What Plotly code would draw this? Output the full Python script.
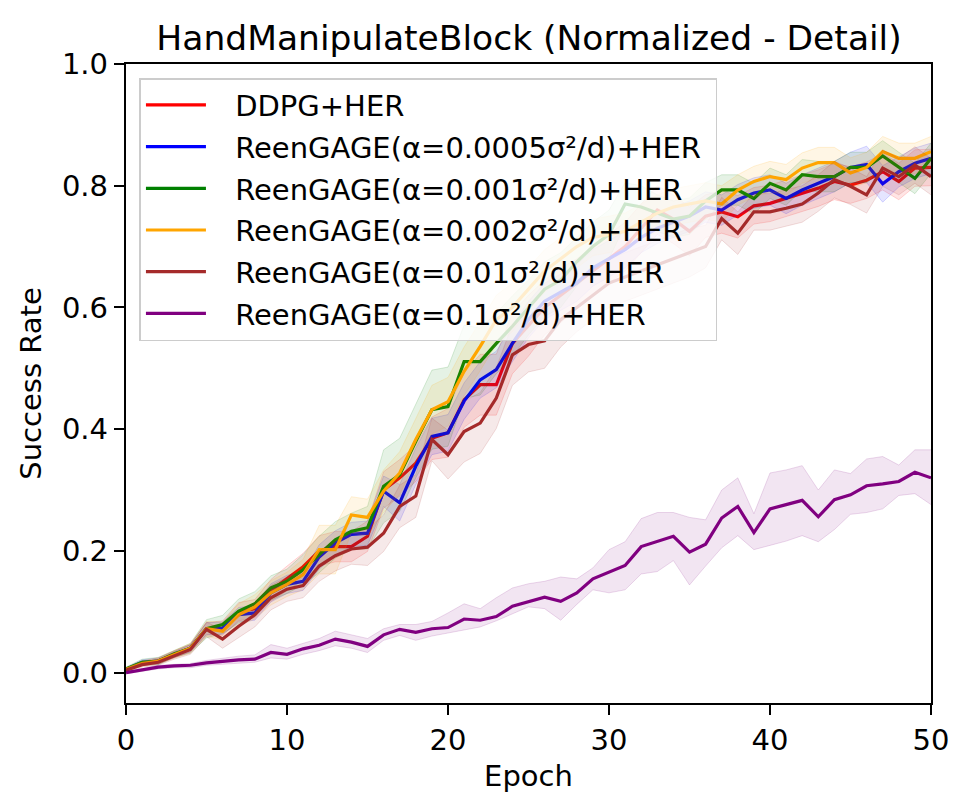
import plotly.graph_objects as go

# epochs 0..50
epochs = list(range(51))

# mean success rate per method
ddpg_her = [0.005, 0.015, 0.019, 0.030, 0.040, 0.072, 0.073, 0.100, 0.105, 0.135,
            0.155, 0.174, 0.200, 0.207, 0.207, 0.224, 0.300, 0.320, 0.344, 0.385,
            0.394, 0.448, 0.473, 0.473, 0.541, 0.570, 0.600, 0.620, 0.640, 0.660,
            0.680, 0.700, 0.730, 0.760, 0.745, 0.725, 0.750, 0.757, 0.749, 0.767,
            0.771, 0.779, 0.788, 0.796, 0.807, 0.801, 0.809, 0.823, 0.807, 0.829,
            0.830]
reen_00005 = [0.005, 0.017, 0.019, 0.030, 0.040, 0.072, 0.073, 0.095, 0.098, 0.131,
              0.145, 0.150, 0.190, 0.213, 0.227, 0.229, 0.298, 0.279, 0.339, 0.388,
              0.394, 0.446, 0.481, 0.498, 0.541, 0.580, 0.610, 0.625, 0.640, 0.665,
              0.680, 0.695, 0.715, 0.730, 0.740, 0.750, 0.765, 0.760, 0.777, 0.788,
              0.793, 0.779, 0.793, 0.804, 0.815, 0.830, 0.835, 0.803, 0.823, 0.837,
              0.845]
reen_0001 = [0.006, 0.017, 0.019, 0.031, 0.040, 0.072, 0.079, 0.101, 0.113, 0.139,
             0.150, 0.169, 0.194, 0.218, 0.232, 0.238, 0.306, 0.325, 0.380, 0.432,
             0.437, 0.511, 0.511, 0.541, 0.569, 0.600, 0.630, 0.645, 0.675, 0.700,
             0.720, 0.770, 0.765, 0.755, 0.745, 0.750, 0.775, 0.793, 0.793, 0.779,
             0.804, 0.793, 0.818, 0.815, 0.815, 0.830, 0.830, 0.849, 0.830, 0.812,
             0.845]
reen_0002 = [0.005, 0.015, 0.019, 0.030, 0.040, 0.072, 0.068, 0.095, 0.108, 0.131,
             0.145, 0.161, 0.202, 0.202, 0.259, 0.255, 0.298, 0.328, 0.383, 0.432,
             0.445, 0.495, 0.536, 0.580, 0.600, 0.630, 0.660, 0.680, 0.700, 0.715,
             0.720, 0.725, 0.740, 0.755, 0.765, 0.770, 0.775, 0.770, 0.793, 0.807,
             0.815, 0.810, 0.829, 0.838, 0.838, 0.821, 0.830, 0.856, 0.845, 0.845,
             0.856]
reen_001 = [0.004, 0.013, 0.017, 0.028, 0.038, 0.071, 0.055, 0.076, 0.095, 0.123,
            0.137, 0.143, 0.175, 0.192, 0.203, 0.206, 0.229, 0.273, 0.290, 0.383,
            0.358, 0.396, 0.410, 0.451, 0.522, 0.539, 0.545, 0.580, 0.600, 0.620,
            0.640, 0.650, 0.660, 0.670, 0.680, 0.690, 0.700, 0.746, 0.722, 0.757,
            0.757, 0.763, 0.770, 0.788, 0.810, 0.799, 0.785, 0.829, 0.815, 0.834,
            0.815]
reen_01 = [0.000, 0.004, 0.009, 0.011, 0.012, 0.016, 0.019, 0.021, 0.022, 0.033,
           0.030, 0.039, 0.045, 0.055, 0.050, 0.043, 0.062, 0.071, 0.066, 0.072,
           0.074, 0.088, 0.086, 0.092, 0.109, 0.117, 0.124, 0.117, 0.131, 0.154,
           0.165, 0.176, 0.207, 0.215, 0.224, 0.198, 0.211, 0.254, 0.273, 0.230,
           0.269, 0.276, 0.283, 0.256, 0.284, 0.292, 0.307, 0.310, 0.314, 0.329,
           0.320]

# spread (std) of each run group
ddpg_sd = [0.003, 0.004, 0.005, 0.006, 0.006, 0.010, 0.012, 0.015, 0.015, 0.018,
           0.020, 0.022, 0.025, 0.025, 0.025, 0.025, 0.030, 0.030, 0.030, 0.035,
           0.040, 0.045, 0.050, 0.050, 0.050, 0.050, 0.045, 0.045, 0.040, 0.040,
           0.040, 0.040, 0.040, 0.040, 0.040, 0.040, 0.035, 0.035, 0.035, 0.030,
           0.030, 0.030, 0.030, 0.030, 0.030, 0.030, 0.030, 0.030, 0.030, 0.030,
           0.030]
r00005_sd = [0.003, 0.004, 0.005, 0.005, 0.006, 0.010, 0.010, 0.012, 0.012, 0.015,
             0.015, 0.015, 0.020, 0.020, 0.020, 0.020, 0.025, 0.030, 0.030, 0.030,
             0.030, 0.030, 0.030, 0.030, 0.030, 0.030, 0.030, 0.030, 0.030, 0.030,
             0.030, 0.030, 0.025, 0.025, 0.025, 0.025, 0.025, 0.025, 0.025, 0.025,
             0.025, 0.025, 0.025, 0.025, 0.025, 0.025, 0.030, 0.030, 0.025, 0.025,
             0.025]
r0001_sd = [0.003, 0.005, 0.006, 0.006, 0.008, 0.015, 0.015, 0.020, 0.020, 0.020,
            0.020, 0.025, 0.030, 0.030, 0.030, 0.035, 0.060, 0.060, 0.060, 0.065,
            0.065, 0.060, 0.055, 0.050, 0.050, 0.045, 0.045, 0.045, 0.040, 0.040,
            0.040, 0.035, 0.035, 0.030, 0.030, 0.030, 0.030, 0.025, 0.025, 0.025,
            0.025, 0.025, 0.025, 0.025, 0.025, 0.025, 0.025, 0.025, 0.025, 0.025,
            0.025]
r0002_sd = [0.003, 0.004, 0.005, 0.006, 0.008, 0.012, 0.015, 0.018, 0.020, 0.020,
            0.020, 0.025, 0.040, 0.040, 0.030, 0.030, 0.035, 0.035, 0.035, 0.040,
            0.040, 0.040, 0.040, 0.040, 0.040, 0.035, 0.035, 0.035, 0.035, 0.030,
            0.030, 0.030, 0.030, 0.030, 0.030, 0.030, 0.030, 0.030, 0.025, 0.025,
            0.025, 0.025, 0.025, 0.025, 0.025, 0.025, 0.025, 0.025, 0.025, 0.025,
            0.025]
r001_sd = [0.003, 0.004, 0.005, 0.006, 0.008, 0.012, 0.015, 0.018, 0.020, 0.020,
           0.020, 0.020, 0.025, 0.025, 0.025, 0.030, 0.030, 0.035, 0.035, 0.035,
           0.040, 0.050, 0.050, 0.050, 0.050, 0.045, 0.045, 0.045, 0.040, 0.040,
           0.040, 0.040, 0.040, 0.040, 0.040, 0.040, 0.035, 0.035, 0.035, 0.030,
           0.030, 0.030, 0.030, 0.030, 0.030, 0.030, 0.030, 0.030, 0.030, 0.030,
           0.030]

# purple band edges read directly
r01_upper = [0.002, 0.006, 0.012, 0.014, 0.015, 0.020, 0.024, 0.027, 0.029, 0.046,
             0.040, 0.048, 0.056, 0.068, 0.062, 0.056, 0.072, 0.079, 0.079, 0.084,
             0.098, 0.113, 0.105, 0.123, 0.139, 0.146, 0.150, 0.157, 0.154, 0.172,
             0.202, 0.215, 0.253, 0.263, 0.263, 0.255, 0.251, 0.300, 0.320, 0.261,
             0.328, 0.333, 0.340, 0.300, 0.333, 0.327, 0.351, 0.355, 0.341, 0.366,
             0.366]
r01_lower = [-0.002, 0.002, 0.006, 0.008, 0.008, 0.012, 0.014, 0.016, 0.017, 0.024,
             0.022, 0.030, 0.036, 0.044, 0.040, 0.033, 0.053, 0.061, 0.053, 0.060,
             0.065, 0.071, 0.075, 0.085, 0.097, 0.108, 0.105, 0.086, 0.112, 0.136,
             0.131, 0.136, 0.162, 0.166, 0.184, 0.144, 0.175, 0.205, 0.225, 0.202,
             0.209, 0.216, 0.225, 0.215, 0.235, 0.260, 0.263, 0.269, 0.291, 0.294,
             0.276]

names = ["DDPG+HER",
         "ReenGAGE(α=0.0005σ²/d)+HER",
         "ReenGAGE(α=0.001σ²/d)+HER",
         "ReenGAGE(α=0.002σ²/d)+HER",
         "ReenGAGE(α=0.01σ²/d)+HER",
         "ReenGAGE(α=0.1σ²/d)+HER"]
colors = [(255, 0, 0), (0, 0, 255), (0, 128, 0), (255, 165, 0), (165, 42, 42), (128, 0, 128)]

means = [ddpg_her, reen_00005, reen_0001, reen_0002, reen_001, reen_01]
sds = [ddpg_sd, r00005_sd, r0001_sd, r0002_sd, r001_sd, None]

fig = go.Figure()

for i, (name, col, m, sd) in enumerate(zip(names, colors, means, sds)):
    if sd is None:
        lo, hi = r01_lower, r01_upper
    else:
        lo = [a - s for a, s in zip(m, sd)]
        hi = [a + s for a, s in zip(m, sd)]
    grp = "g%d" % i
    fig.add_trace(go.Scatter(x=epochs, y=lo, mode="lines", legendgroup=grp, showlegend=False,
                             line=dict(color="rgba(%d,%d,%d,0.15)" % col, width=1), hoverinfo="skip"))
    fig.add_trace(go.Scatter(x=epochs, y=hi, mode="lines", legendgroup=grp, showlegend=False,
                             fill="tonexty", fillcolor="rgba(%d,%d,%d,0.1)" % col,
                             line=dict(color="rgba(%d,%d,%d,0.15)" % col, width=1), hoverinfo="skip"))
    # spaces widen the gap between legend line and label (and the right padding)
    fig.add_trace(go.Scatter(x=epochs, y=m, mode="lines",
                             name="\u00a0\u00a0\u2009" + name + "\u00a0",
                             legendgroup=grp,
                             line=dict(color="rgb(%d,%d,%d)" % col, width=3.2)))

font = "DejaVu Sans, Verdana, sans-serif"

# the page body has an 8px margin, so margins are shifted by 8
fig.update_layout(
    width=970, height=812,
    paper_bgcolor="white", plot_bgcolor="white",
    margin=dict(l=118, r=47, t=56, b=117),
    font=dict(family=font, size=29, color="black"),
    title=dict(text="HandManipulateBlock (Normalized - Detail)", x=521 / 970, xanchor="center",
               y=1 - 30 / 812, yanchor="middle", font=dict(size=34.5, color="black")),
    showlegend=True,
    legend=dict(x=0.0167, y=0.978, xanchor="left", yanchor="top",
                bgcolor="rgba(255,255,255,0.8)", bordercolor="#cccccc", borderwidth=1.5,
                font=dict(size=29), itemwidth=60, tracegroupgap=1, traceorder="grouped"),
)
fig.update_xaxes(range=[0, 50], tickvals=[0, 10, 20, 30, 40, 50], ticks="outside", ticklen=10,
                 tickwidth=2, tickcolor="black", showline=True, linecolor="black", linewidth=2.3,
                 mirror=True, showgrid=False, zeroline=False,
                 title=dict(text="Epoch", font=dict(size=29), standoff=10))
fig.update_yaxes(range=[-0.05, 1.0], tickvals=[0, 0.2, 0.4, 0.6, 0.8, 1.0], tickformat=".1f",
                 ticks="outside", ticklen=10, tickwidth=2, tickcolor="black", showline=True,
                 linecolor="black", linewidth=2.3, mirror=True, showgrid=False, zeroline=False,
                 title=dict(text="Success Rate", font=dict(size=29), standoff=12))

fig.write_html("out.html")
